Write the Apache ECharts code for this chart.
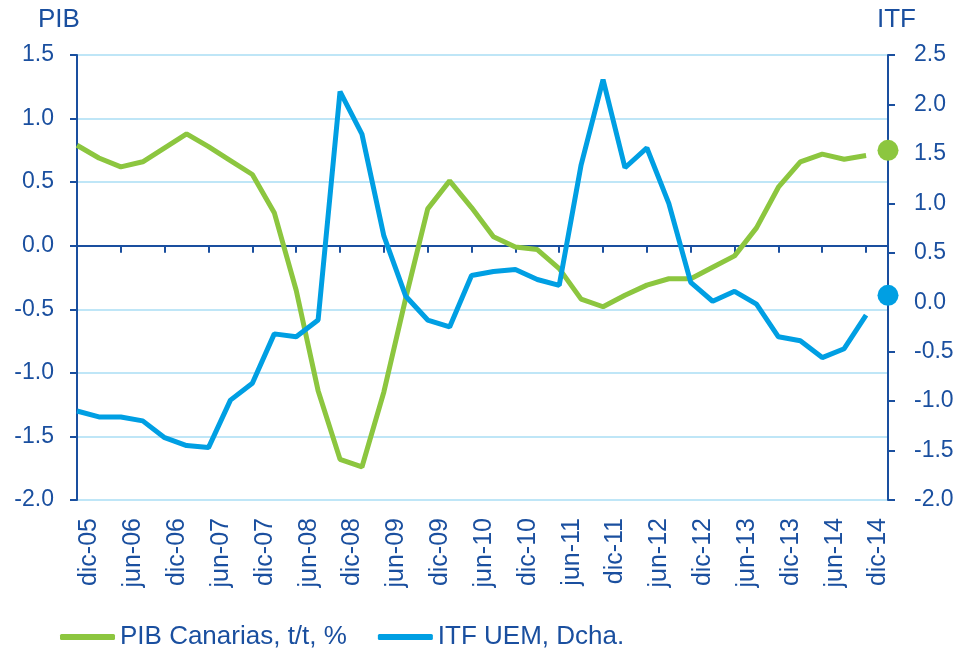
<!DOCTYPE html>
<html>
<head>
<meta charset="utf-8">
<script src="https://cdn.jsdelivr.net/npm/echarts@6/dist/echarts.min.js"></script>
<style>html,body{margin:0;padding:0;background:#fff}#c{width:962px;height:651px}</style>
</head>
<body>
<div id="c"></div>
<script>
const categories = ['dic-05','mar-06','jun-06','sep-06','dic-06','mar-07','jun-07','sep-07','dic-07','mar-08','jun-08','sep-08','dic-08','mar-09','jun-09','sep-09','dic-09','mar-10','jun-10','sep-10','dic-10','mar-11','jun-11','sep-11','dic-11','mar-12','jun-12','sep-12','dic-12','mar-13','jun-13','sep-13','dic-13','mar-14','jun-14','sep-14','dic-14','mar-15'];
const pibCanarias = [0.79,0.69,0.62,0.66,0.77,0.88,0.78,0.67,0.56,0.26,-0.35,-1.14,-1.68,-1.74,-1.15,-0.41,0.29,0.51,0.30,0.07,-0.01,-0.03,-0.18,-0.42,-0.48,-0.39,-0.31,-0.26,-0.26,-0.17,-0.08,0.14,0.46,0.66,0.72,0.68,0.71];
const itfUem = [-1.10,-1.16,-1.16,-1.20,-1.37,-1.45,-1.47,-0.99,-0.82,-0.32,-0.35,-0.18,2.13,1.70,0.67,0.06,-0.18,-0.25,0.27,0.31,0.33,0.23,0.17,1.39,2.25,1.36,1.56,1.00,0.20,0.01,0.11,-0.02,-0.35,-0.39,-0.56,-0.47,-0.13];
const pibLastPoint = 0.75;
const itfLastPoint = 0.07;
const leftTicks = {min: -2.0, max: 1.5, interval: 0.5};
const rightTicks = {min: -2.0, max: 2.5, interval: 0.5};
const seriesNames = ['PIB Canarias, t/t, %', 'ITF UEM, Dcha.'];
const axisTitles = ['PIB', 'ITF'];

const GREEN = '#8cc63f', BLUE = '#009fe3', DARK = '#1a4f9f', GRID = '#bfe6f7';
const FONT = 'Arial, "Liberation Sans", sans-serif';
const lastIdx = categories.length - 1;
const pad = (arr) => arr.concat(new Array(categories.length - arr.length).fill(null));
const dotData = (v) => categories.map((c, i) => i === lastIdx ? v : null);

const chart = echarts.init(document.getElementById('c'), null, {renderer: 'canvas'});
chart.setOption({
  animation: false,
  backgroundColor: '#fff',
  textStyle: {fontFamily: FONT},
  title: [
    {text: axisTitles[0], left: 38, top: 7, padding: 0, textStyle: {color: DARK, fontSize: 26, fontWeight: 'normal', fontFamily: FONT}},
    {text: axisTitles[1], left: 877, top: 7, padding: 0, textStyle: {color: DARK, fontSize: 26, fontWeight: 'normal', fontFamily: FONT}}
  ],
  legend: {
    data: seriesNames,
    left: 60, top: 624, padding: 0,
    icon: 'roundRect', itemWidth: 55, itemHeight: 6, itemGap: 31,
    textStyle: {color: DARK, fontSize: 26, fontFamily: FONT}
  },
  grid: {left: 77, right: 74, top: 55, bottom: 151, containLabel: false},
  xAxis: [
    {
      type: 'category', data: categories, boundaryGap: false, position: 'bottom',
      axisLine: {show: false, onZero: false}, axisTick: {show: false},
      axisLabel: {interval: 1, rotate: 90, margin: 18, color: DARK, fontSize: 25, verticalAlign: 'top', fontFamily: FONT},
      splitLine: {show: false}
    },
    {
      type: 'category', data: categories, boundaryGap: false, position: 'top',
      axisLine: {show: true, onZero: true, onZeroAxisIndex: 0, lineStyle: {color: DARK, width: 2}},
      axisTick: {show: true, inside: true, interval: 1, length: 7, lineStyle: {color: DARK, width: 2}},
      axisLabel: {show: false}, splitLine: {show: false}
    }
  ],
  yAxis: [
    {
      type: 'value', position: 'left', min: leftTicks.min, max: leftTicks.max, interval: leftTicks.interval,
      axisLine: {show: true, lineStyle: {color: DARK, width: 2}},
      axisTick: {show: true, length: 7, lineStyle: {color: DARK, width: 2}},
      axisLabel: {margin: 23, color: DARK, fontSize: 23, formatter: v => v.toFixed(1)},
      splitLine: {show: true, lineStyle: {color: GRID, width: 2}}
    },
    {
      type: 'value', position: 'right', min: rightTicks.min, max: rightTicks.max, interval: rightTicks.interval,
      axisLine: {show: true, lineStyle: {color: DARK, width: 2}},
      axisTick: {show: true, length: 7, lineStyle: {color: DARK, width: 2}},
      axisLabel: {margin: 26, color: DARK, fontSize: 23, formatter: v => v.toFixed(1)},
      splitLine: {show: false}
    }
  ],
  series: [
    {
      name: seriesNames[0], type: 'line', xAxisIndex: 0, yAxisIndex: 0, data: pad(pibCanarias),
      showSymbol: false, symbol: 'none', lineStyle: {color: GREEN, width: 5}, itemStyle: {color: GREEN}, z: 3
    },
    {
      name: seriesNames[1], type: 'line', xAxisIndex: 0, yAxisIndex: 1, data: pad(itfUem),
      showSymbol: false, symbol: 'none', lineStyle: {color: BLUE, width: 5}, itemStyle: {color: BLUE}, z: 3
    },
    {
      name: 'pibDot', type: 'scatter', xAxisIndex: 0, yAxisIndex: 0, data: dotData(pibLastPoint),
      symbolSize: 21, itemStyle: {color: GREEN, opacity: 1}, clip: false, z: 5
    },
    {
      name: 'itfDot', type: 'scatter', xAxisIndex: 0, yAxisIndex: 1, data: dotData(itfLastPoint),
      symbolSize: 21, itemStyle: {color: BLUE, opacity: 1}, clip: false, z: 5
    }
  ]
});
</script>
</body>
</html>
